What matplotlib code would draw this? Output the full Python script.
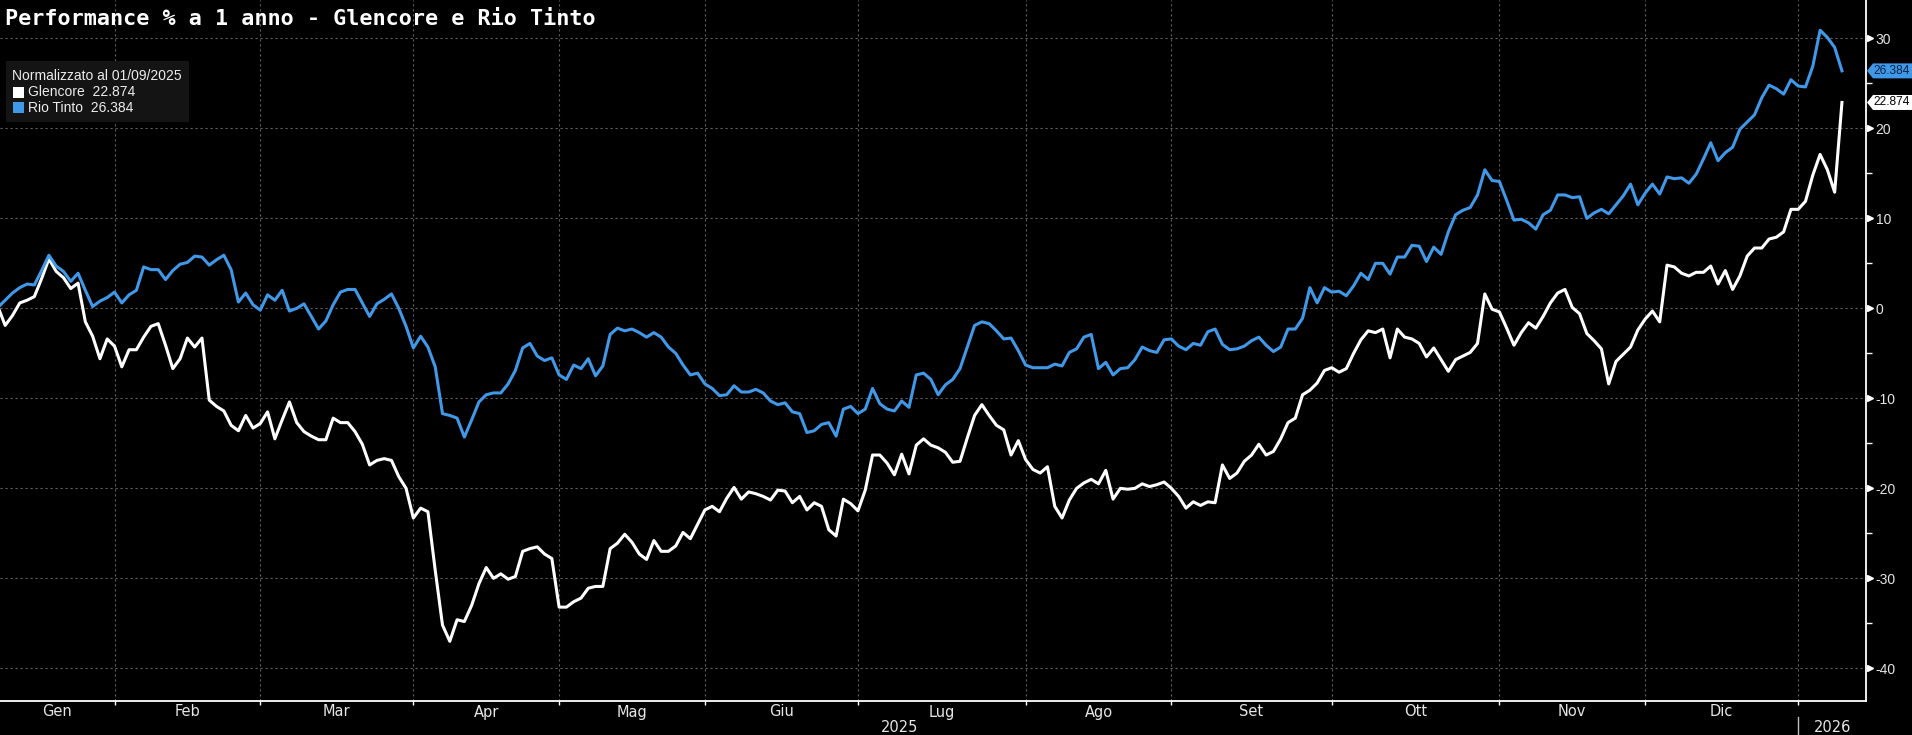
import matplotlib
matplotlib.use("Agg")
import matplotlib.pyplot as plt
import matplotlib.transforms as mtransforms
from matplotlib.patches import Polygon, Rectangle
from matplotlib.lines import Line2D
import numpy as np

# ---------------- data (trading-day index 0 = 09/01/2025) ----------------
glencore = [
    0.0, 0.2, -1.9, -0.8, 0.6, 0.9, 1.3, 3.3, 5.5, 4.1,
    3.4, 2.2, 2.8, -1.5, -3.1, -5.6, -3.4, -4.2, -6.5, -4.6,
    -4.6, -3.2, -2.0, -1.7, -4.1, -6.7, -5.6, -3.3, -4.3, -3.3,
    -10.2, -10.9, -11.4, -13.0, -13.6, -11.9, -13.3, -12.8, -11.5, -14.5,
    -12.4, -10.4, -12.7, -13.7, -14.2, -14.6, -14.6, -12.2, -12.7, -12.7,
    -13.7, -15.1, -17.4, -16.9, -16.7, -16.9, -18.7, -20.0, -23.3, -22.2,
    -22.6, -29.1, -35.2, -37.0, -34.6, -34.8, -33.0, -30.6, -28.8, -30.0,
    -29.5, -30.1, -29.8, -27.0, -26.7, -26.5, -27.3, -27.8, -33.2, -33.2,
    -32.6, -32.2, -31.1, -30.9, -30.9, -26.7, -26.1, -25.1, -26.0, -27.3,
    -27.9, -25.8, -27.0, -27.0, -26.4, -24.9, -25.6, -24.0, -22.4, -22.0,
    -22.6, -21.1, -19.9, -21.2, -20.4, -20.6, -20.9, -21.3, -20.2, -20.3,
    -21.6, -20.9, -22.4, -21.6, -22.0, -24.6, -25.3, -21.2, -21.7, -22.5,
    -20.2, -16.3, -16.3, -17.2, -18.5, -16.2, -18.4, -15.2, -14.5, -15.2,
    -15.5, -16.0, -17.1, -17.0, -14.4, -11.9, -10.7, -11.9, -13.0, -13.5,
    -16.3, -14.7, -16.8, -17.9, -18.3, -17.6, -22.0, -23.3, -21.3, -20.0,
    -19.4, -19.0, -19.5, -18.0, -21.2, -20.0, -20.1, -20.0, -19.5, -19.8,
    -19.6, -19.3, -20.0, -20.9, -22.2, -21.5, -21.9, -21.5, -21.6, -17.4,
    -18.9, -18.3, -17.0, -16.3, -15.1, -16.3, -15.9, -14.5, -12.7, -12.2,
    -9.6, -9.1, -8.3, -6.9, -6.6, -7.1, -6.7, -5.0, -3.5, -2.5,
    -2.7, -2.3, -5.5, -2.3, -3.2, -3.4, -3.9, -5.4, -4.4, -5.7,
    -7.0, -5.7, -5.3, -4.9, -3.9, 1.6, -0.1, -0.4, -2.2, -4.1,
    -2.7, -1.6, -2.2, -0.9, 0.6, 1.7, 2.1, 0.1, -0.6, -2.8,
    -3.6, -4.5, -8.4, -5.9, -5.1, -4.3, -2.4, -1.2, -0.3, -1.5,
    4.8, 4.6, 3.9, 3.6, 4.0, 4.0, 4.7, 2.7, 4.2, 2.1,
    3.6, 5.8, 6.7, 6.7, 7.7, 7.9, 8.5, 11.0, 11.0, 11.9,
    14.8, 17.1, 15.4, 12.9, 22.874,
]
rio_tinto = [
    0.0, 0.1, 0.9, 1.7, 2.3, 2.7, 2.6, 4.2, 5.9, 4.7,
    4.1, 3.0, 3.9, 2.0, 0.2, 0.8, 1.2, 1.8, 0.6, 1.5,
    2.0, 4.6, 4.3, 4.3, 3.2, 4.2, 4.9, 5.1, 5.8, 5.7,
    4.8, 5.4, 5.9, 4.3, 0.7, 1.7, 0.4, -0.2, 1.5, 0.9,
    2.0, -0.3, 0.0, 0.5, -0.9, -2.3, -1.4, 0.4, 1.8, 2.1,
    2.1, 0.6, -0.9, 0.5, 1.0, 1.6, 0.0, -2.0, -4.4, -3.1,
    -4.3, -6.5, -11.7, -11.9, -12.2, -14.3, -12.4, -10.4, -9.6, -9.4,
    -9.4, -8.4, -6.9, -4.4, -3.9, -5.3, -5.8, -5.5, -7.4, -7.9,
    -6.3, -6.7, -5.6, -7.5, -6.4, -2.9, -2.2, -2.5, -2.3, -2.7,
    -3.2, -2.7, -3.2, -4.3, -5.0, -6.3, -7.4, -7.2, -8.4, -8.9,
    -9.7, -9.6, -8.6, -9.3, -9.3, -9.0, -9.4, -10.3, -10.7, -10.5,
    -11.5, -11.7, -13.8, -13.6, -12.9, -12.7, -14.2, -11.2, -10.9, -11.7,
    -11.2, -8.9, -10.6, -11.2, -11.4, -10.3, -11.0, -7.4, -7.2, -7.9,
    -9.6, -8.5, -7.9, -6.7, -4.3, -1.9, -1.5, -1.7, -2.5, -3.4,
    -3.3, -4.7, -6.3, -6.6, -6.6, -6.6, -6.2, -6.4, -4.9, -4.5,
    -3.2, -2.9, -6.7, -6.0, -7.4, -6.7, -6.6, -5.7, -4.3, -4.7,
    -4.9, -3.5, -3.4, -4.2, -4.6, -3.9, -4.1, -2.6, -2.3, -4.0,
    -4.6, -4.5, -4.2, -3.6, -3.2, -4.1, -4.8, -4.3, -2.3, -2.3,
    -1.1, 2.3, 0.6, 2.3, 1.8, 1.9, 1.4, 2.5, 3.9, 3.2,
    5.0, 5.0, 3.8, 5.7, 5.7, 7.0, 6.9, 5.2, 6.8, 6.0,
    8.5, 10.4, 10.9, 11.2, 12.6, 15.4, 14.2, 14.1, 12.0, 9.8,
    9.9, 9.5, 8.8, 10.4, 10.9, 12.6, 12.6, 12.3, 12.4, 10.0,
    10.6, 11.0, 10.5, 11.5, 12.5, 13.8, 11.5, 12.8, 13.8, 12.7,
    14.6, 14.4, 14.5, 13.9, 14.9, 16.6, 18.4, 16.4, 17.3, 17.9,
    19.9, 20.7, 21.5, 23.4, 24.8, 24.4, 23.8, 25.4, 24.7, 24.6,
    26.9, 30.9, 30.1, 29.0, 26.384,
]
series_names = ["Glencore", "Rio Tinto"]
last_labels = ["22.874", "26.384"]
month_labels = ["Gen", "Feb", "Mar", "Apr", "Mag", "Giu", "Lug", "Ago", "Set", "Ott", "Nov", "Dic"]
month_start_idx = [17, 37, 58, 78, 98, 119, 142, 162, 184, 207, 227, 248]
year_labels = ["2025", "2026"]
y_ticks = [-40, -30, -20, -10, 0, 10, 20, 30]
y_minor = [-35, -25, -15, -5, 5, 15, 25]
title = "Performance % a 1 anno - Glencore e Rio Tinto"
norm_label = "Normalizzato al 01/09/2025"

# ---------------- style ----------------
W, H = 1912, 735
BLUE = "#3f98e8"
WHITE = "#ffffff"
GRID = "#606060"
NARROW = ["Liberation Sans Narrow", "DejaVu Sans"]
SANS = ["Liberation Sans", "DejaVu Sans"]

fig = plt.figure(figsize=(W / 100, H / 100), dpi=100, facecolor="black")
ax = fig.add_axes([0, (H - 701) / H, 1866 / W, 701 / H])
ax.set_facecolor("black")

x = np.arange(len(glencore))
ax.plot(x, glencore, color=WHITE, lw=2.2, zorder=3)
ax.plot(x, rio_tinto, color=BLUE, lw=2.2, zorder=4)

ax.set_xlim(1.29, 257.3)
ax.set_ylim(-43.63, 34.26)

for s in ["top", "left"]:
    ax.spines[s].set_visible(False)
for s in ["right", "bottom"]:
    ax.spines[s].set_color(WHITE)
    ax.spines[s].set_linewidth(1.3)

# x axis
ax.set_xticks(month_start_idx)
ax.set_xticklabels([])
ax.tick_params(axis="x", direction="out", length=3, width=1, color=WHITE)

# y axis on right
ax.yaxis.tick_right()
ax.set_yticks(y_ticks)
ax.set_yticklabels([str(v) for v in y_ticks])
ax.set_yticks(y_minor, minor=True)
ax.tick_params(axis="y", which="major", length=0, pad=7, labelsize=10, labelcolor="#e6e6e6")
ax.tick_params(axis="y", which="minor", length=4.5, width=1, color=WHITE, direction="out")
for lab in ax.get_yticklabels():
    lab.set_family(SANS)

ax.grid(True, which="major", color=GRID, linestyle=(0, (2, 2.5)), linewidth=0.8)
ax.set_axisbelow(True)

# triangle markers at major y ticks
tri_tr = mtransforms.offset_copy(ax.get_yaxis_transform(), fig=fig, x=4, y=0, units="dots")
ax.plot([1.0] * len(y_ticks), y_ticks, linestyle="none", marker=">", ms=5,
        color=WHITE, transform=tri_tr, clip_on=False, zorder=5)

# month and year labels
lbl_tr = mtransforms.blended_transform_factory(ax.transData, fig.transFigure)
bounds = [ax.get_xlim()[0]] + month_start_idx
for i, m in enumerate(month_labels):
    mid = (bounds[i] + bounds[i + 1]) / 2
    ax.text(mid, 1 - 712 / H, m, transform=lbl_tr, ha="center", va="center",
            fontsize=10.5, color="#e6e6e6", family=NARROW, clip_on=False)
year_mid = [(ax.get_xlim()[0] + month_start_idx[-1]) / 2,
            (month_start_idx[-1] + ax.get_xlim()[1]) / 2]
for xm, yl in zip(year_mid, year_labels):
    ax.text(xm, 1 - 728 / H, yl, transform=lbl_tr, ha="center", va="center",
            fontsize=10.5, color="#e6e6e6", family=NARROW, clip_on=False)
sep = Line2D([month_start_idx[-1]] * 2, [1 - 717 / H, 0.0], transform=lbl_tr,
             color="#bdbdbd", lw=1)
ax.add_artist(sep)
sep.set_clip_on(False)

# title
fig.text(5 / W, 1 - 19 / H, title, fontsize=15.7, fontweight="bold", color=WHITE,
         ha="left", va="center", family=["DejaVu Sans Mono", "DejaVu Sans"])

# legend box
fig.add_artist(Rectangle((6 / W, 1 - 122 / H), 183 / W, 61 / H, transform=fig.transFigure,
                         facecolor="#141414", edgecolor="none", zorder=6))
fig.text(12 / W, 1 - 76.5 / H, norm_label, fontsize=10, color="#ececec", ha="left",
         va="center", family=SANS, zorder=7)
for k, (name, lab, col) in enumerate(zip(series_names, last_labels, [WHITE, BLUE])):
    yc = 92 + 15.5 * k
    fig.add_artist(Rectangle((13 / W, 1 - (yc + 5.5) / H), 11 / W, 11 / H,
                             transform=fig.transFigure, facecolor=col, edgecolor="none", zorder=7))
    fig.text(28 / W, 1 - yc / H, f"{name}  {lab}", fontsize=10, color="#ececec",
             ha="left", va="center", family=SANS, zorder=7)

# last value tags on the right axis
ident = mtransforms.IdentityTransform()
for vals, lab, col, tcol in [(glencore, last_labels[0], WHITE, "#000000"),
                             (rio_tinto, last_labels[1], BLUE, "#0c2340")]:
    yd = ax.transData.transform((0, vals[-1]))[1]
    hh = 7.5
    poly = Polygon([(1867, yd), (1873, yd + hh), (1912, yd + hh), (1912, yd - hh), (1873, yd - hh)],
                   closed=True, transform=ident, facecolor=col, edgecolor="none", zorder=8)
    fig.add_artist(poly)
    fig.text(1873, yd, lab, transform=ident, fontsize=8.6, color=tcol, ha="left",
             va="center", family=SANS, zorder=9)

fig.savefig("out.png", dpi=100, facecolor="black")
